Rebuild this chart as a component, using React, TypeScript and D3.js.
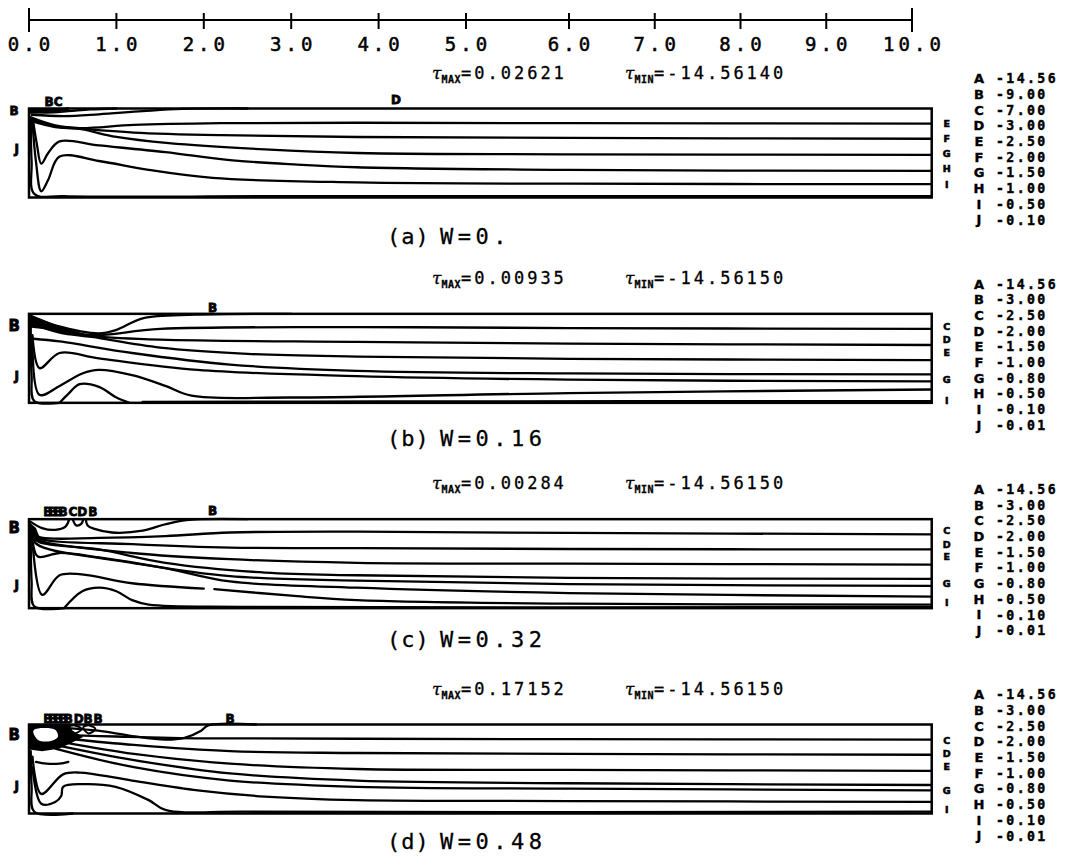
import React, { useEffect, useRef } from 'react';
import * as d3 from 'd3';

type Pt = [number, number];
type Lab = [string, number, number];

// channel coordinate along x, box runs a little past the 10.0 tick
const L = 10.23;

const xTicks = [0, 1, 2, 3, 4, 5, 6, 7, 8, 9, 10];
const panelNames = ['(a)', '(b)', '(c)', '(d)'];
const wLabels = ['W=0.', 'W=0.16', 'W=0.32', 'W=0.48'];
const tauMax = ['0.02621', '0.00935', '0.00284', '0.17152'];
const tauMin = ['-14.56140', '-14.56150', '-14.56150', '-14.56150'];
const levelKeys = ['A', 'B', 'C', 'D', 'E', 'F', 'G', 'H', 'I', 'J'];
const levelsA = ['-14.56', '-9.00', '-7.00', '-3.00', '-2.50', '-2.00', '-1.50', '-1.00', '-0.50', '-0.10'];
const levelsW = ['-14.56', '-3.00', '-2.50', '-2.00', '-1.50', '-1.00', '-0.80', '-0.50', '-0.10', '-0.01'];

// contour lines, [x, y] with y = 0 at the bottom wall and 1 at the top wall
const contoursA: Pt[][] = [
  [[0.02, 0.985], [0.15, 0.975], [0.3, 0.985], [0.45, 1.0]],
  [[0.02, 0.965], [0.2, 0.955], [0.45, 0.97], [0.7, 0.99], [1.0, 1.0]],
  [[0.03, 0.93], [0.4, 0.915], [0.8, 0.935], [1.3, 0.97], [1.75, 0.995], [2.5, 1.0]],
  [[0.02, 0.9], [0.3, 0.81], [0.58, 0.78], [1.2, 0.815], [2.2, 0.835], [3.75, 0.84], [6, 0.835], [L, 0.83]],
  [[0.02, 0.88], [0.3, 0.8], [0.58, 0.775], [1.2, 0.73], [2.2, 0.7], [3.75, 0.68], [6, 0.67], [L, 0.66]],
  [[0.02, 0.86], [0.3, 0.79], [0.58, 0.77], [1.0, 0.68], [1.6, 0.61], [2.7, 0.54], [3.75, 0.5], [6, 0.485], [L, 0.48]],
  [[0.05, 0.84], [0.09, 0.6], [0.14, 0.38], [0.22, 0.5], [0.35, 0.63], [0.8, 0.585], [1.56, 0.51], [2.3, 0.42], [3.07, 0.37], [3.75, 0.34], [6, 0.31], [L, 0.3]],
  [[0.04, 0.84], [0.08, 0.4], [0.14, 0.07], [0.22, 0.2], [0.35, 0.46], [0.8, 0.41], [1.37, 0.31], [2.1, 0.22], [3.75, 0.17], [6, 0.155], [L, 0.15]],
  [[0.02, 0.9], [0.03, 0.4], [0.06, 0.04], [0.4, 0.015], [3, 0.015], [L, 0.015]],
];

const contoursB: Pt[][] = [
  [[0.02, 0.97], [0.3, 0.87], [0.8, 0.78], [1.0, 0.82], [1.3, 0.95], [1.9, 0.99], [3.0, 1.0]],
  [[0.02, 0.93], [0.35, 0.82], [0.72, 0.76], [1.5, 0.83], [3.75, 0.85], [6, 0.84], [L, 0.83]],
  [[0.02, 0.91], [0.35, 0.8], [0.72, 0.75], [1.5, 0.71], [3.75, 0.685], [6, 0.665], [L, 0.65]],
  [[0.02, 0.89], [0.35, 0.79], [0.72, 0.74], [1.5, 0.62], [2.5, 0.55], [3.75, 0.52], [6, 0.495], [L, 0.48]],
  [[0.05, 0.72], [0.35, 0.69], [1.18, 0.56], [2.3, 0.43], [3.75, 0.36], [6, 0.33], [L, 0.32]],
  [[0.04, 0.76], [0.12, 0.39], [0.35, 0.56], [0.8, 0.5], [1.93, 0.37], [3.75, 0.3], [6, 0.26], [L, 0.24]],
  [[0.04, 0.72], [0.12, 0.09], [0.35, 0.19], [0.61, 0.33], [0.8, 0.37], [1.18, 0.31], [1.56, 0.19], [1.86, 0.08], [3, 0.06], [6, 0.11], [L, 0.15]],
  [[0.35, 0.0], [0.45, 0.1], [0.58, 0.21], [0.8, 0.18], [1.0, 0.06], [1.15, 0.0]],
  [[1.3, 0.01], [4, 0.015], [L, 0.02]],
  [[0.02, 0.86], [0.03, 0.3], [0.06, 0.02], [0.35, 0.0]],
];

const contoursC: Pt[][] = [
  [[0.02, 0.97], [0.15, 0.9], [0.3, 0.88], [0.42, 0.92], [0.46, 1.0]],
  [[0.5, 1.0], [0.54, 0.93], [0.6, 0.95], [0.62, 1.0]],
  [[0.65, 1.0], [0.67, 0.93], [0.75, 0.89], [0.95, 0.85], [1.3, 0.87], [1.55, 0.94], [1.8, 0.99], [2.5, 1.0]],
  [[0.03, 0.87], [0.12, 0.8], [0.8, 0.79], [1.56, 0.81], [2.3, 0.85], [3.75, 0.86], [6, 0.845], [L, 0.83]],
  [[0.03, 0.85], [0.12, 0.78], [1.18, 0.72], [2.3, 0.68], [3.75, 0.675], [6, 0.665], [L, 0.66]],
  [[0.03, 0.83], [0.12, 0.76], [1.18, 0.62], [2.3, 0.55], [3.75, 0.51], [6, 0.5], [L, 0.49]],
  [[0.03, 0.81], [0.12, 0.74], [0.8, 0.66], [1.56, 0.51], [2.7, 0.4], [3.75, 0.37], [6, 0.34], [L, 0.33]],
  [[0.03, 0.79], [0.12, 0.7], [1.18, 0.51], [2.3, 0.36], [3.75, 0.31], [6, 0.27], [L, 0.25]],
  [[0.04, 0.78], [0.1, 0.58], [0.35, 0.62], [0.8, 0.57], [1.56, 0.45], [2.3, 0.3], [3.75, 0.23], [6, 0.17], [L, 0.13]],
  [[0.04, 0.75], [0.15, 0.15], [0.35, 0.37], [0.6, 0.38], [1.18, 0.28], [2.0, 0.22]],
  [[2.12, 0.215], [3.0, 0.14], [3.75, 0.09], [6, 0.05], [L, 0.04]],
  [[0.4, 0.0], [0.61, 0.19], [0.8, 0.23], [1.0, 0.19], [1.18, 0.09], [1.37, 0.04], [2.5, 0.015], [L, 0.015]],
  [[0.02, 0.9], [0.03, 0.3], [0.06, 0.02], [0.4, 0.0]],
];

const contoursD: Pt[][] = [
  [[0.45, 0.96], [0.79, 0.93], [1.18, 0.87], [1.56, 0.83], [1.78, 0.85], [1.97, 0.93], [2.05, 0.99], [2.6, 1.0]],
  [[0.45, 0.88], [1.0, 0.865], [2, 0.845], [3.75, 0.84], [6, 0.835], [L, 0.83]],
  [[0.45, 0.84], [1.2, 0.77], [2.3, 0.7], [3.75, 0.68], [6, 0.67], [L, 0.66]],
  [[0.4, 0.8], [1.2, 0.67], [2.3, 0.56], [3.75, 0.5], [6, 0.49], [L, 0.48]],
  [[0.35, 0.76], [1.2, 0.6], [2.3, 0.45], [3.75, 0.37], [6, 0.34], [L, 0.32]],
  [[0.3, 0.73], [1.2, 0.52], [2.3, 0.37], [3.75, 0.3], [6, 0.28], [L, 0.26]],
  [[0.08, 0.58], [0.2, 0.56], [0.35, 0.56], [0.45, 0.58]],
  [[0.04, 0.64], [0.14, 0.22], [0.39, 0.44], [0.58, 0.46], [1.18, 0.37], [1.93, 0.26], [2.7, 0.19], [3.75, 0.15], [6, 0.14], [L, 0.13]],
  [[0.04, 0.52], [0.14, 0.11], [0.3, 0.13], [0.37, 0.2], [0.39, 0.3], [0.61, 0.33], [0.99, 0.3], [1.37, 0.15], [1.56, 0.04], [2.5, 0.02], [L, 0.02]],
  [[0.02, 0.7], [0.03, 0.3], [0.06, 0.02], [0.5, 0.0]],
];

// small closed contours near the inlet
const loopsA: Pt[][] = [];
const loopsB: Pt[][] = [];
const loopsC: Pt[][] = [];
const loopsD: Pt[][] = [
  [[0.45, 0.97], [0.52, 0.9], [0.6, 0.95], [0.52, 0.99]],
  [[0.62, 0.97], [0.68, 0.9], [0.76, 0.95], [0.69, 0.99]],
];

// regions where the lines crowd into solid black
const blobsA: Pt[][] = [[[0, 1], [0.3, 0.995], [0.6, 0.975], [0.3, 0.955], [0.05, 0.94], [0, 0.94]]];
const blobsB: Pt[][] = [[[0, 1], [0.1, 0.96], [0.35, 0.86], [0.72, 0.75], [0.35, 0.81], [0.05, 0.84], [0, 0.85]]];
const blobsC: Pt[][] = [[[0, 0.97], [0.08, 0.9], [0.12, 0.8], [0.3, 0.785], [0.12, 0.765], [0.03, 0.8]]];
const blobsD: Pt[][] = [[[0, 1], [0.45, 1], [0.5, 0.93], [0.62, 0.86], [0.5, 0.8], [0.35, 0.73], [0.15, 0.7], [0, 0.72]]];
const holesD: Pt[][] = [[[0.05, 0.93], [0.15, 0.96], [0.3, 0.94], [0.33, 0.86], [0.22, 0.81], [0.1, 0.83]]];

// level letters written on the lines: text, x, y
const labelsA: Lab[] = [['B', -0.17, 0.98], ['J', -0.14, 0.55], ['BC', 0.28, 1.08], ['D', 4.2, 1.1]];
const labelsB: Lab[] = [['B', -0.17, 0.87], ['J', -0.14, 0.3], ['B', 2.1, 1.07]];
const labelsC: Lab[] = [
  ['B', -0.17, 0.91], ['J', -0.14, 0.26],
  ['BBBB', 0.28, 1.08], ['CD', 0.56, 1.08], ['B', 0.73, 1.08], ['B', 2.1, 1.09],
];
const labelsD: Lab[] = [
  ['B', -0.17, 0.89], ['J', -0.14, 0.31],
  ['BBBBB', 0.31, 1.07], ['DB', 0.62, 1.07], ['B', 0.79, 1.07], ['B', 2.3, 1.07],
];
const rightA: [string, number][] = [['E', 0.83], ['F', 0.66], ['G', 0.49], ['H', 0.32], ['I', 0.15]];
const rightB: [string, number][] = [['C', 0.86], ['D', 0.71], ['E', 0.56], ['G', 0.26], ['I', 0.03]];
const rightC: [string, number][] = [['C', 0.87], ['D', 0.72], ['E', 0.58], ['G', 0.28], ['I', 0.06]];
const rightD: [string, number][] = [['C', 0.82], ['D', 0.67], ['E', 0.53], ['G', 0.26], ['I', 0.04]];

const panels = [
  { contours: contoursA, loops: loopsA, blobs: blobsA, holes: [] as Pt[][], labels: labelsA, right: rightA, levels: levelsA },
  { contours: contoursB, loops: loopsB, blobs: blobsB, holes: [] as Pt[][], labels: labelsB, right: rightB, levels: levelsW },
  { contours: contoursC, loops: loopsC, blobs: blobsC, holes: [] as Pt[][], labels: labelsC, right: rightC, levels: levelsW },
  { contours: contoursD, loops: loopsD, blobs: blobsD, holes: holesD, labels: labelsD, right: rightD, levels: levelsW },
];

const App = () => {
  const ref = useRef<SVGSVGElement>(null);

  useEffect(() => {
    const svg = d3.select(ref.current);
    svg.selectAll('*').remove();

    const mono = "'DejaVu Sans Mono', monospace";
    const bold = "'DejaVu Sans', sans-serif";

    const x = d3.scaleLinear().domain([0, 5, 6, 10]).range([29, 466, 569, 912]);
    const panelTop = d3.scaleLinear().domain([0, 3]).range([108.5, 724.5]);
    const captionY = d3.scaleLinear().domain([0, 3]).range([236, 841]);
    const boxH = 89;
    const rowH = 15.7;

    // top axis
    const axis = svg.append('g');
    axis.append('line')
      .attr('x1', x(0)).attr('x2', x(10)).attr('y1', 20).attr('y2', 20)
      .attr('stroke', '#000').attr('stroke-width', 2);
    axis.selectAll('line.tick').data(xTicks).join('line')
      .attr('class', 'tick')
      .attr('x1', d => x(d)).attr('x2', d => x(d))
      .attr('y1', d => (d === 0 || d === 10 ? 8 : 13))
      .attr('y2', d => (d === 0 || d === 10 ? 32 : 29))
      .attr('stroke', '#000').attr('stroke-width', 2);
    axis.selectAll('text').data(xTicks).join('text')
      .attr('x', d => x(d) + 2)
      .attr('y', 51)
      .attr('text-anchor', 'middle')
      .attr('font-family', mono)
      .attr('font-size', 19)
      .attr('letter-spacing', 4)
      .attr('stroke', '#000').attr('stroke-width', 0.5)
      .text(d => d.toFixed(1));

    panels.forEach((p, i) => {
      const top = panelTop(i);
      const y = d3.scaleLinear().domain([0, 1]).range([top + boxH, top]);
      const g = svg.append('g');

      const line = d3.line<Pt>()
        .x(d => x(d[0]))
        .y(d => y(d[1]))
        .curve(d3.curveCatmullRom.alpha(0.5));
      const area = d3.line<Pt>()
        .x(d => x(d[0]))
        .y(d => y(d[1]))
        .curve(d3.curveLinearClosed);
      const loop = d3.line<Pt>()
        .x(d => x(d[0]))
        .y(d => y(d[1]))
        .curve(d3.curveCatmullRomClosed.alpha(0.5));

      g.selectAll('path.blob').data(p.blobs).join('path')
        .attr('class', 'blob').attr('d', area).attr('fill', '#000');
      g.selectAll('path.hole').data(p.holes).join('path')
        .attr('class', 'hole').attr('d', loop).attr('fill', '#fff');

      g.selectAll('path.contour').data(p.contours).join('path')
        .attr('class', 'contour')
        .attr('d', line)
        .attr('fill', 'none')
        .attr('stroke', '#000')
        .attr('stroke-width', 2.3)
        .attr('stroke-linejoin', 'round')
        .attr('stroke-linecap', 'round');
      g.selectAll('path.loop').data(p.loops).join('path')
        .attr('class', 'loop')
        .attr('d', loop)
        .attr('fill', 'none')
        .attr('stroke', '#000')
        .attr('stroke-width', 2);

      g.append('rect')
        .attr('x', x(0)).attr('y', y(1))
        .attr('width', x(L) - x(0)).attr('height', y(0) - y(1))
        .attr('fill', 'none').attr('stroke', '#000').attr('stroke-width', 2.5);

      // letters on lines
      g.selectAll('text.lab').data(p.labels).join('text')
        .attr('class', 'lab')
        .attr('x', d => x(d[1])).attr('y', d => y(d[2]))
        .attr('dy', '0.36em')
        .attr('text-anchor', 'middle')
        .attr('font-family', bold).attr('font-weight', 'bold')
        .attr('font-size', d => (d[1] < 0 && d[0] === 'B' && i > 0 ? 15 : 12))
        .attr('letter-spacing', d => (d[0].length > 2 ? -4 : 0))
        .attr('stroke', '#000').attr('stroke-width', 0.8)
        .text(d => d[0]);
      g.selectAll('text.rlab').data(p.right).join('text')
        .attr('class', 'rlab')
        .attr('x', x(L) + 15).attr('y', d => y(d[1]))
        .attr('dy', '0.36em')
        .attr('text-anchor', 'middle')
        .attr('font-family', bold).attr('font-weight', 'bold').attr('font-size', 9.5)
        .attr('stroke', '#000').attr('stroke-width', 0.6)
        .text(d => d[0]);

      // tau header
      const hdr = g.append('text')
        .attr('y', top - 30)
        .attr('font-family', mono).attr('font-size', 17).attr('letter-spacing', 3)
        .attr('stroke', '#000').attr('stroke-width', 0.3);
      hdr.append('tspan').attr('x', 432).attr('font-style', 'italic')
        .attr('font-family', "'DejaVu Serif', serif").attr('letter-spacing', 0).text('τ');
      hdr.append('tspan').attr('dy', 4).attr('font-size', 10).attr('font-weight', 'bold')
        .attr('letter-spacing', 0.5).text('MAX');
      hdr.append('tspan').attr('dy', -4).text('=' + tauMax[i]);
      hdr.append('tspan').attr('x', 625).attr('font-style', 'italic')
        .attr('font-family', "'DejaVu Serif', serif").attr('letter-spacing', 0).text('τ');
      hdr.append('tspan').attr('dy', 4).attr('font-size', 10).attr('font-weight', 'bold')
        .attr('letter-spacing', 0.5).text('MIN');
      hdr.append('tspan').attr('dy', -4).text('=' + tauMin[i]);

      // legend of levels
      const leg = g.append('g');
      leg.selectAll('text.key').data(levelKeys).join('text')
        .attr('class', 'key')
        .attr('x', 979).attr('y', (d, j) => top - 30 + j * rowH)
        .attr('dy', '0.36em').attr('text-anchor', 'middle')
        .attr('font-family', bold).attr('font-weight', 'bold').attr('font-size', 13)
        .attr('stroke', '#000').attr('stroke-width', 0.4)
        .text(d => d);
      leg.selectAll('text.val').data(p.levels).join('text')
        .attr('class', 'val')
        .attr('x', 996).attr('y', (d, j) => top - 30 + j * rowH)
        .attr('dy', '0.36em')
        .attr('font-family', mono).attr('font-weight', 'bold').attr('font-size', 13.2)
        .attr('letter-spacing', 2.4)
        .attr('stroke', '#000').attr('stroke-width', 0.4)
        .text(d => d);

      // caption
      const cy = captionY(i) + 8;
      g.append('text')
        .attr('x', 387).attr('y', cy)
        .attr('font-family', mono).attr('font-size', 22).attr('letter-spacing', 1)
        .attr('stroke', '#000').attr('stroke-width', 0.3)
        .text(panelNames[i]);
      g.append('text')
        .attr('x', 440).attr('y', cy)
        .attr('font-family', mono).attr('font-size', 22).attr('letter-spacing', 4.5)
        .attr('stroke', '#000').attr('stroke-width', 0.3)
        .text(wLabels[i]);
    });
  }, []);

  return (
    <svg
      ref={ref}
      width={1066}
      height={865}
      style={{ position: 'absolute', left: 0, top: 0, background: '#fff' }}
    ></svg>
  );
};

export default App;
